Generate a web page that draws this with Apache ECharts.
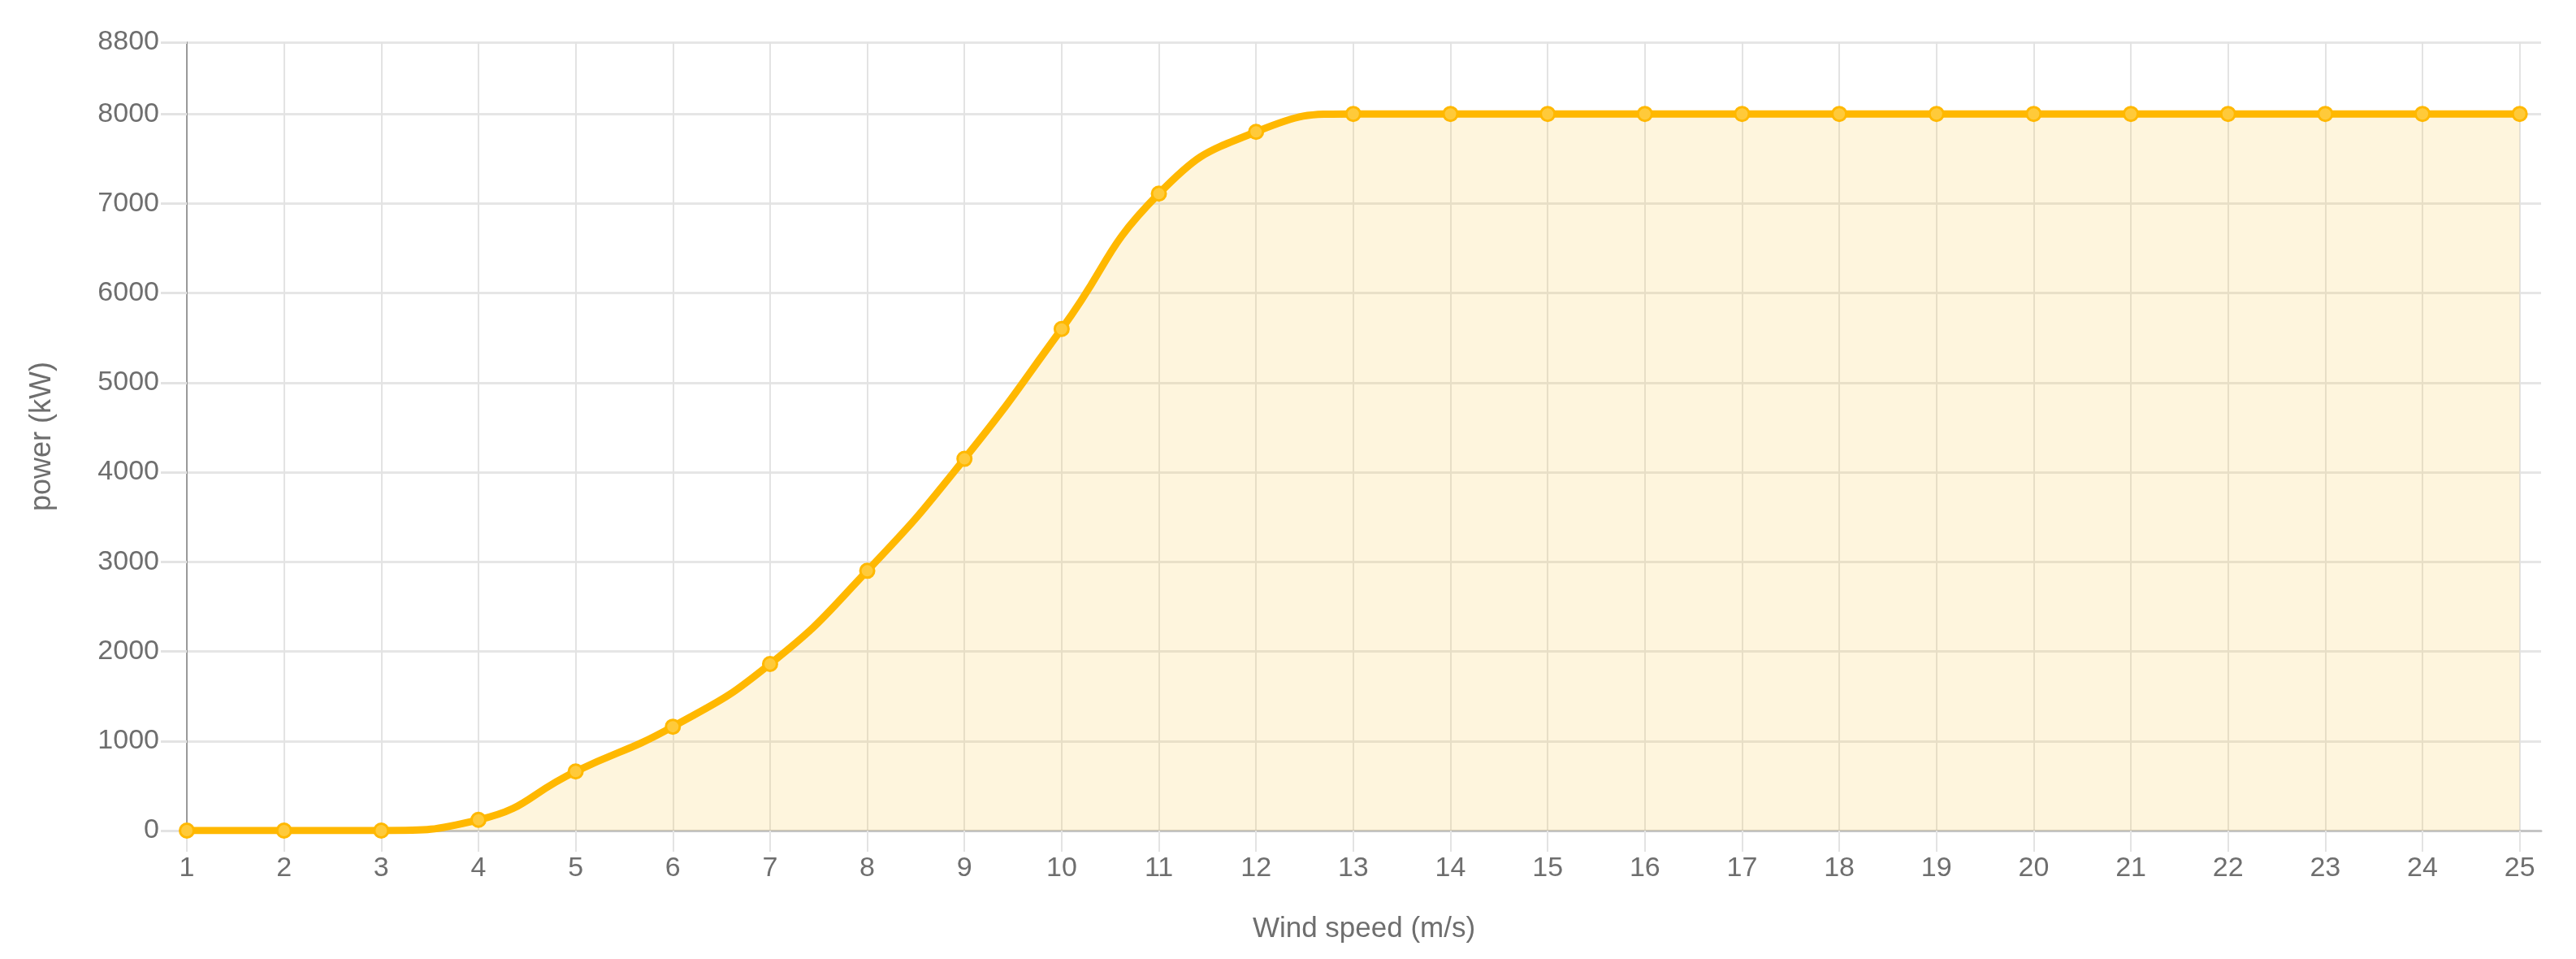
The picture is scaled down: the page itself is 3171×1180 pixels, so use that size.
<!DOCTYPE html>
<html style="height: 100%">
<head>
<meta charset="UTF-8">
<title>Power curve</title>
<script src="https://cdn.jsdelivr.net/npm/echarts@6/dist/echarts.min.js"></script>
</head>
<body style="height: 100%;margin: 0">
<div id="container" style="width: 3171px;height: 1180px"></div>
<script type="text/javascript">
// wind speed (m/s) and turbine output (kW)
var windSpeed = [1, 2, 3, 4, 5, 6, 7, 8, 9, 10, 11, 12, 13, 14, 15, 16, 17, 18, 19, 20, 21, 22, 23, 24, 25];
var power = [0, 0, 0, 120, 660, 1160, 1860, 2900, 4150, 5600, 7110, 7800, 8000, 8000, 8000, 8000, 8000, 8000, 8000, 8000, 8000, 8000, 8000, 8000, 8000];
var yTicks = [0, 1000, 2000, 3000, 4000, 5000, 6000, 7000, 8000, 8800];

var dom = document.getElementById("container");
var myChart = echarts.init(dom);

var points = windSpeed.map(function (s, i) { return [s, power[i]]; });

var labelFont = {
    color: '#6e6e6e',
    fontSize: 34,
    fontFamily: 'Liberation Sans, Arial, sans-serif',
    formatter: function (v) { return String(v); }
};

var option = {
    animation: false,
    grid: {
        left: 230,
        right: 43,
        top: 52,
        bottom: 158,
        outerBoundsMode: 'none'
    },
    xAxis: {
        type: 'value',
        min: 1,
        max: 25.22,
        interval: 1,
        name: 'Wind speed (m/s)',
        nameLocation: 'middle',
        nameGap: 104,
        nameTextStyle: {
            color: '#6e6e6e',
            fontSize: 35,
            fontFamily: 'Liberation Sans, Arial, sans-serif'
        },
        axisLine: {lineStyle: {color: '#c4c4c4', width: 3}},
        axisTick: {
            show: true,
            length: 26,
            customValues: windSpeed,
            lineStyle: {color: '#e3e3e3', width: 2}
        },
        axisLabel: Object.assign({margin: 30, customValues: windSpeed}, labelFont),
        splitLine: {show: true, lineStyle: {color: '#e3e3e3', width: 2}}
    },
    yAxis: {
        type: 'value',
        min: 0,
        max: 8800,
        interval: 1000,
        name: 'power (kW)',
        nameLocation: 'middle',
        nameGap: 160,
        nameTextStyle: {
            color: '#6e6e6e',
            fontSize: 36,
            fontFamily: 'Liberation Sans, Arial, sans-serif'
        },
        axisLine: {show: true, lineStyle: {color: '#9a9a9a', width: 2}},
        axisTick: {
            show: true,
            length: 32,
            customValues: yTicks,
            lineStyle: {color: '#e3e3e3', width: 3}
        },
        axisLabel: Object.assign({margin: 34, customValues: yTicks}, labelFont),
        splitLine: {show: true, lineStyle: {color: '#e6e6e6', width: 3}}
    },
    series: [{
        type: 'line',
        smooth: true,
        data: points,
        symbol: 'circle',
        symbolSize: 17,
        lineStyle: {color: '#FFB800', width: 9},
        itemStyle: {color: '#FFCA3A', borderColor: '#FFB800', borderWidth: 3},
        areaStyle: {color: 'rgba(248,196,60,0.25)'}
    }]
};

myChart.setOption(option);
</script>
</body>
</html>
